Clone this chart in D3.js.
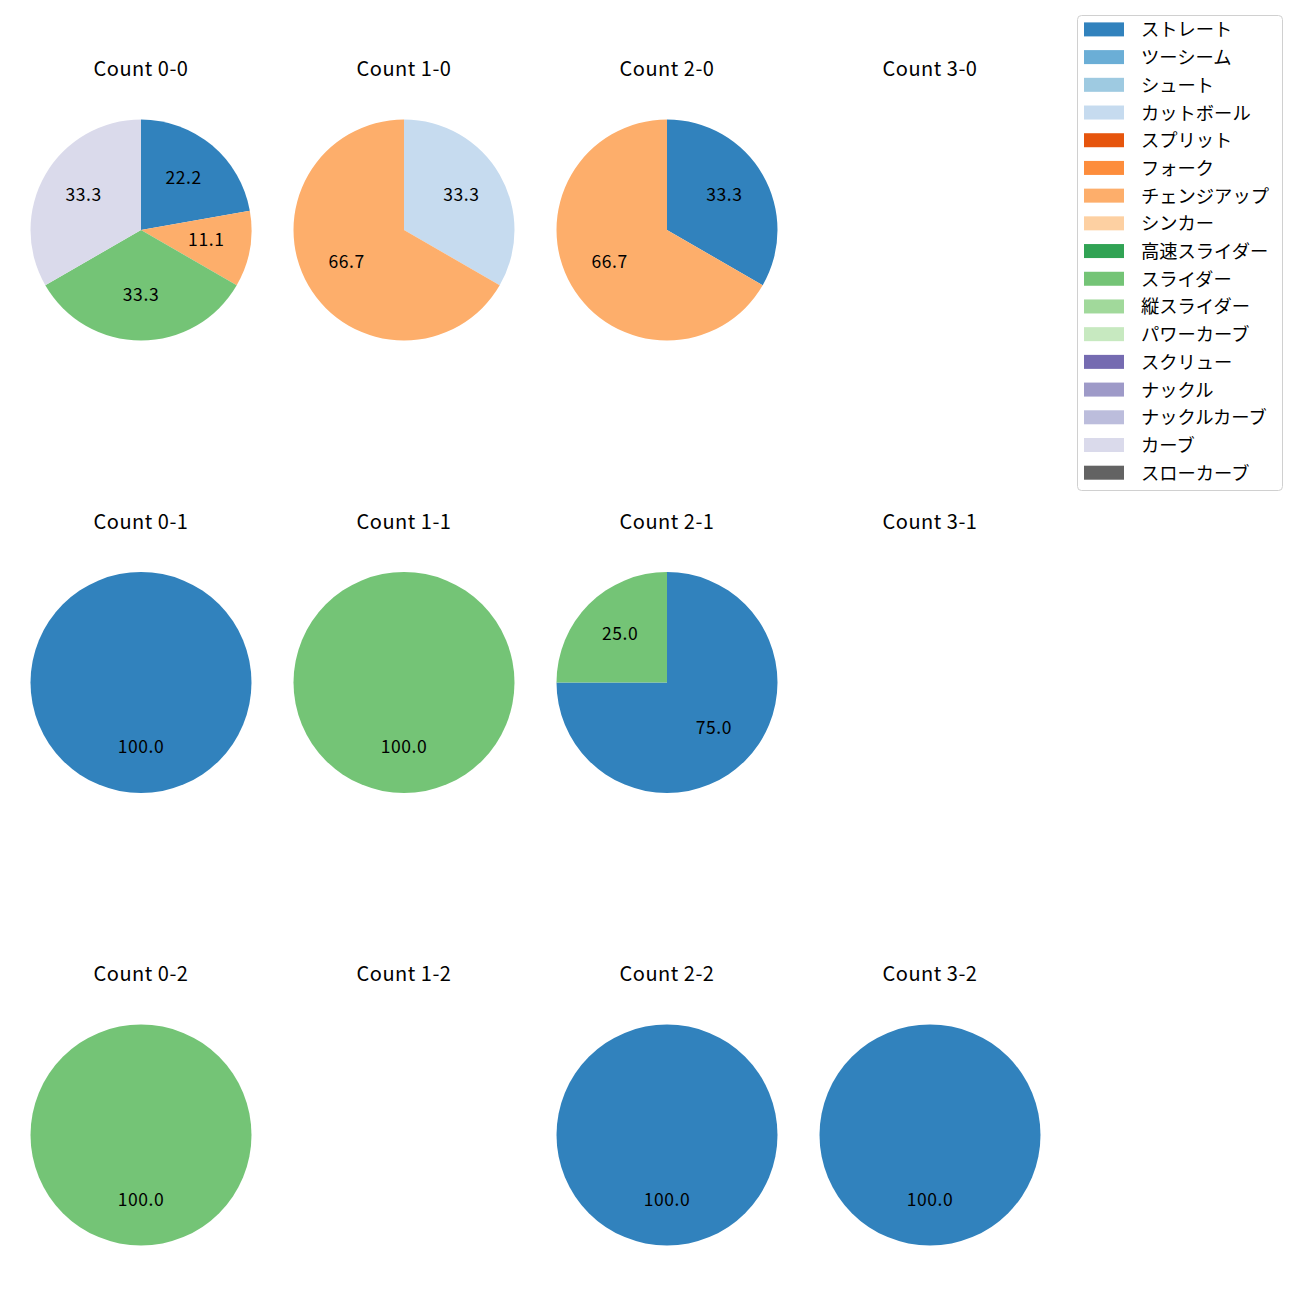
<!DOCTYPE html>
<html><head><meta charset="utf-8">
<script src="https://cdn.jsdelivr.net/npm/d3@7"></script>
<style>body{margin:0;background:#fff}</style>
</head><body>
<script>
const pitchTypes = ["ストレート","ツーシーム","シュート","カットボール","スプリット","フォーク","チェンジアップ","シンカー","高速スライダー","スライダー","縦スライダー","パワーカーブ","スクリュー","ナックル","ナックルカーブ","カーブ","スローカーブ"];
const pitchColors = ["#3182bd","#6baed6","#9ecae1","#c6dbef","#e6550d","#fd8d3c","#fdae6b","#fdd0a2","#31a354","#74c476","#a1d99b","#c7e9c0","#756bb1","#9e9ac8","#bcbddc","#dadaeb","#636363"];
const panelTitles = ["Count 0-0","Count 1-0","Count 2-0","Count 3-0","Count 0-1","Count 1-1","Count 2-1","Count 3-1","Count 0-2","Count 1-2","Count 2-2","Count 3-2"];
// values per panel: [pitch type, count]
const c00 = [["ストレート",2],["チェンジアップ",1],["スライダー",3],["カーブ",3]];
const c10 = [["カットボール",1],["チェンジアップ",2]];
const c20 = [["ストレート",1],["チェンジアップ",2]];
const c30 = [];
const c01 = [["ストレート",1]];
const c11 = [["スライダー",1]];
const c21 = [["ストレート",3],["スライダー",1]];
const c31 = [];
const c02 = [["スライダー",1]];
const c12 = [];
const c22 = [["ストレート",1]];
const c32 = [["ストレート",1]];
const panelData = [c00,c10,c20,c30,c01,c11,c21,c31,c02,c12,c22,c32];

const W = 1300, H = 1300;
const svg = d3.select("body").append("svg").attr("width",W).attr("height",H)
  .style("font-family","'Noto Sans CJK JP','Noto Sans',sans-serif");
const color = d3.scaleOrdinal().domain(pitchTypes).range(pitchColors);
const colX = d3.scalePoint().domain([0,1,2,3]).range([141,930]);
const rowY = d3.scalePoint().domain([0,1,2]).range([230,1135]);
const R = 110.5;
const pie = d3.pie().sort(null).value(d=>d[1]);
const arc = d3.arc().innerRadius(0).outerRadius(R);
const labelArc = d3.arc().innerRadius(R*0.6).outerRadius(R*0.6);

panelData.forEach((data,i)=>{
  const cx = colX(i%4), cy = rowY(Math.floor(i/4));
  const g = svg.append("g").attr("transform",`translate(${cx},${cy})`);
  g.append("text").attr("x",0).attr("y",-R-52).attr("text-anchor","middle")
    .attr("dominant-baseline","central").attr("font-size",20).attr("letter-spacing",0.5)
    .attr("fill","#000").text(panelTitles[i]);
  const total = d3.sum(data,d=>d[1]);
  const arcs = pie(data);
  g.selectAll("path").data(arcs).join("path").attr("d",arc).attr("fill",d=>color(d.data[0]));
  g.selectAll("text.lbl").data(arcs).join("text").attr("class","lbl")
    .attr("transform",d=>{const c=labelArc.centroid(d);return `translate(${c[0]},${c[1]-3})`;})
    .attr("text-anchor","middle").attr("dominant-baseline","central")
    .attr("font-size",17.5).attr("letter-spacing",0.6).attr("fill","#000")
    .text(d=>(d.data[1]/total*100).toFixed(1));
});

// legend
const lg = svg.append("g");
lg.append("rect").attr("x",1077.5).attr("y",15.5).attr("width",205).attr("height",475)
  .attr("rx",4).attr("fill","#fff").attr("stroke","#d0d0d0").attr("stroke-width",1);
const ly = d3.scaleLinear().domain([0,16]).range([29.4,472.7]);
pitchTypes.forEach((p,i)=>{
  lg.append("rect").attr("x",1084).attr("y",ly(i)-7).attr("width",40).attr("height",14).attr("fill",color(p));
  lg.append("text").attr("x",1141).attr("y",ly(i)-1).attr("dominant-baseline","central")
    .attr("font-size",18.3).attr("fill","#000").text(p);
});
</script>
</body></html>
